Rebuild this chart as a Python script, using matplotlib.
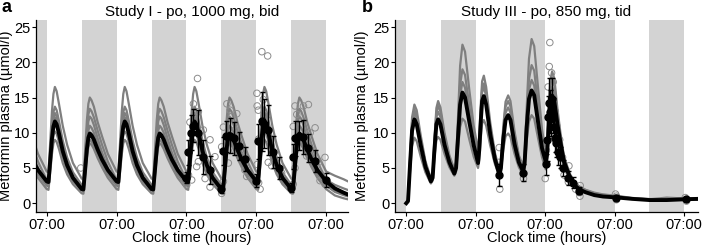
import matplotlib
matplotlib.use('Agg')
import matplotlib.pyplot as plt

plt.rcParams['font.family'] = ['Liberation Sans', 'DejaVu Sans']

# ---------------- Study I : po, 1000 mg, bid ----------------
# one 12 h dosing interval (hours after dose), morning / evening profiles
cyc_t = [0, 0.6, 1.2, 1.8, 2.3, 2.8, 3.4, 4.2, 5.5, 7, 9, 12]
tail_t = [15, 18, 20]          # after the last (evening) dose
am_doses = [0, 24, 48, 72]
pm_doses = [-12, 12, 36, 60, 84]

mean_am = [3.1, 3.0, 6.1, 9.2, 10.9, 11.6, 11.2, 9.9, 7.4, 5.4, 3.6, 2.0]
mean_pm = [2.0, 1.95, 4.8, 7.7, 9.3, 9.9, 9.65, 9.0, 7.6, 6.2, 4.7, 3.1]
mean_tail = [2.1, 1.5, 1.15]

grey_am = [
    [4.5, 4.4, 8.7, 13.1, 15.5, 16.5, 15.9, 14.1, 11.0, 8.3, 5.7, 3.5],
    [3.3, 3.2, 6.9, 10.8, 12.9, 13.7, 13.2, 11.7, 8.9, 6.5, 4.4, 2.6],
    [2.6, 2.5, 6.2, 9.9, 12.0, 12.8, 12.35, 10.9, 8.1, 5.8, 3.8, 2.1],
    [3.0, 2.9, 6.2, 9.6, 11.5, 12.2, 11.8, 10.4, 7.8, 5.6, 3.7, 2.1],
    [2.5, 2.4, 5.2, 8.0, 9.6, 10.2, 9.85, 8.7, 6.5, 4.7, 3.1, 1.8],
    [2.0, 1.9, 4.45, 7.0, 8.5, 9.0, 8.7, 7.7, 5.7, 4.1, 2.7, 1.4],
]
grey_pm = [
    [3.5, 3.4, 7.5, 11.8, 14.1, 15.0, 14.6, 13.7, 11.5, 9.5, 7.0, 4.5],
    [2.6, 2.5, 6.4, 10.4, 12.6, 13.4, 13.05, 12.2, 10.3, 8.3, 5.9, 3.3],
    [2.1, 2.0, 5.7, 9.4, 11.6, 12.3, 12.0, 11.1, 9.2, 7.2, 5.0, 2.6],
    [2.1, 2.0, 5.2, 8.5, 10.3, 11.0, 10.7, 10.0, 8.4, 6.8, 4.9, 3.0],
    [1.8, 1.75, 4.3, 7.0, 8.5, 9.0, 8.75, 8.2, 6.9, 5.6, 4.1, 2.5],
    [1.4, 1.35, 3.9, 6.5, 8.0, 8.5, 8.3, 7.7, 6.4, 5.1, 3.6, 2.0],
]
grey_tail = [
    [3.9, 3.4, 3.0],
    [2.6, 2.1, 1.8],
    [1.8, 1.3, 1.05],
    [2.0, 1.45, 1.15],
    [1.6, 1.15, 0.9],
    [1.1, 0.7, 0.5],
]

# observed means +/- sd
obs_a_t = [47.8, 48.7, 49.6, 50.4, 51.8, 53.8, 56.1,
           59.8, 60.4, 61.7, 62.8, 64.2, 65.9, 68.2,
           72.0, 72.5, 73.9, 74.5, 75.9, 77.9, 79.9,
           83.8, 84.6, 85.3, 86.5, 88.2, 89.9, 92.0, 95.8]
obs_a_v = [3.6, 7.2, 10.0, 11.0, 10.0, 6.6, 4.7,
           2.0, 7.4, 9.5, 9.6, 9.2, 8.1, 6.3,
           3.2, 8.8, 11.6, 11.3, 10.4, 7.3, 5.0,
           2.2, 6.6, 9.2, 9.6, 9.4, 7.8, 6.0, 3.3]
obs_a_sd = [0.8, 1.8, 2.5, 2.3, 3.2, 2.4, 2.0,
            0.6, 2.0, 2.2, 2.5, 2.3, 2.0, 1.7,
            0.9, 2.5, 4.2, 3.5, 3.6, 2.3, 1.5,
            0.6, 1.8, 2.5, 2.1, 2.4, 2.0, 1.5, 1.0]
# individual observations
ind_a_t = [11.7, 47.2, 48.1, 48.7, 49.2, 49.8, 50.4, 51.5, 51.8, 52.1, 52.1, 53.8, 54.4, 56.1, 56.1, 56.7, 57.8,
           60.1, 60.7, 60.1, 60.7, 61.9, 63.0, 63.6, 65.3, 64.7, 62.4, 64.7, 67.0, 68.1, 68.7,
           72.2, 72.7, 72.3, 72.8, 72.3, 72.8, 73.3, 73.9, 74.4, 75.6, 75.9, 76.1, 76.8, 77.3, 77.9, 79.0, 80.7,
           84.7, 84.7, 85.3, 85.3, 85.9, 87.6, 88.2, 89.3, 89.9, 90.5, 91.6, 92.2, 93.4, 93.9, 95.6, 95.6]
ind_a_v = [5.0, 3.2, 2.6, 4.0, 11.5, 3.3, 14.1, 5.2, 17.7, 13.0, 5.9, 10.4, 3.5, 9.0, 2.3, 3.8, 6.6,
           1.4, 3.1, 8.0, 10.8, 14.1, 13.2, 12.3, 12.7, 10.4, 5.7, 7.5, 6.6, 4.7, 3.8,
           15.6, 13.2, 13.8, 9.1, 5.5, 2.9, 2.0, 21.5, 14.7, 12.4, 20.9, 5.8, 8.1, 5.3, 6.2, 5.5, 4.3,
           10.9, 2.7, 13.8, 5.0, 12.6, 9.1, 13.8, 6.7, 14.0, 10.0, 7.4, 10.7, 5.8, 3.2, 6.5, 2.7]

# ---------------- Study III : po, 850 mg, tid ----------------
tb = [0, 0.6, 1.3, 2.0, 2.8, 3.6, 5.0, 6.6,
      8.5, 9.1, 9.8, 10.4, 11.0, 11.8, 13.2, 14.9,
      16.6, 17.2, 17.9, 18.6, 19.4, 20.3, 21.8, 23.3,
      24.8, 25.2, 25.8, 26.2, 26.8, 27.6, 29.0, 30.6,
      32.2, 32.7, 33.5, 34.3, 35.2, 36.0, 37.4, 38.9,
      40.4, 40.9, 41.6, 42.4, 43.3, 44.2, 45.5, 46.9,
      48.2, 48.6, 49.2, 49.8, 50.4, 51.2, 52.2, 53.2, 54.5, 56.5, 58.3, 60, 62, 65, 68, 72.7, 78, 84, 90, 96.9, 101]
mean_b = [0, 0.3, 5.5, 10.3, 11.9, 11.2, 8.2, 5.2,
          3.1, 3.6, 8.0, 11.2, 11.9, 11.2, 8.3, 5.8,
          4.2, 5.0, 9.5, 14.0, 15.7, 15.0, 11.5, 8.2,
          5.7, 7.5, 12.0, 14.5, 15.2, 14.0, 9.8, 6.3,
          4.0, 5.0, 9.0, 11.8, 12.5, 11.8, 8.4, 5.8,
          4.5, 5.8, 10.8, 14.8, 16.0, 15.3, 11.6, 7.8,
          5.9, 6.8, 10.5, 14.2, 15.3, 14.3, 11.3, 8.8, 5.9, 3.7, 2.5, 1.9, 1.55, 1.15, 0.95, 0.82, 0.62, 0.45, 0.45, 0.57, 0.62]
grey_b = [
    [0, 0.3, 6.5, 12.2, 14.0, 13.2, 9.6, 6.0,
     3.5, 4.0, 9.5, 13.5, 14.5, 13.6, 10.0, 6.8,
     4.8, 5.8, 12.5, 19.5, 22.5, 21.5, 16.0, 11.0,
     7.5, 9.5, 14.5, 17.3, 18.1, 16.5, 11.5, 7.2,
     4.6, 5.8, 10.8, 14.4, 15.3, 14.5, 10.2, 6.8,
     5.2, 6.8, 13.5, 20.5, 23.3, 22.3, 16.5, 10.5,
     7.0, 8.8, 14.0, 17.5, 18.7, 17.6, 13.5, 10.2, 6.6, 4.2, 2.9, 2.3, 1.85, 1.4, 1.2, 1.0, 0.7, 0.55, 0.8, 0.65, 0.6],
    [0, 0.3, 6.1, 11.6, 13.3, 12.5, 9.1, 5.7,
     3.4, 3.9, 9.1, 12.9, 13.8, 13.0, 9.5, 6.5,
     4.6, 5.5, 11.2, 16.8, 19.0, 18.2, 13.8, 9.6,
     6.8, 8.7, 13.5, 16.2, 17.0, 15.6, 10.8, 6.8,
     4.4, 5.5, 10.3, 13.7, 14.5, 13.7, 9.7, 6.5,
     5.0, 6.5, 12.5, 17.6, 19.6, 18.8, 14.0, 9.2,
     6.5, 8.2, 13.3, 16.8, 17.8, 16.7, 12.6, 9.6, 6.2, 4.0, 2.8, 2.3, 1.9, 1.5, 1.25, 1.05, 0.75, 0.6, 0.6, 0.7, 0.65],
    [0, 0.3, 5.9, 11.0, 12.8, 12.1, 8.8, 5.6,
     3.3, 3.8, 8.6, 12.2, 13.0, 12.2, 9.0, 6.2,
     4.5, 5.3, 10.3, 15.3, 17.2, 16.4, 12.5, 8.9,
     6.2, 8.1, 13.0, 15.7, 16.5, 15.2, 10.6, 6.8,
     4.3, 5.4, 9.8, 12.8, 13.6, 12.8, 9.1, 6.3,
     4.9, 6.3, 11.8, 16.1, 17.5, 16.7, 12.6, 8.5,
     6.0, 7.4, 12.0, 15.4, 16.5, 15.5, 12.0, 9.3, 6.1, 3.9, 2.7, 2.1, 1.7, 1.25, 1.0, 0.9, 0.65, 0.5, 0.55, 0.6, 0.6],
    [0, 0.2, 4.5, 8.1, 9.3, 8.8, 6.6, 4.4,
     2.8, 3.2, 6.8, 8.9, 9.4, 9.0, 7.0, 5.1,
     3.9, 4.5, 8.0, 10.8, 12.0, 11.6, 9.0, 6.6,
     5.0, 6.2, 9.5, 11.3, 11.8, 11.0, 8.2, 5.6,
     3.8, 4.6, 7.6, 9.5, 9.9, 9.4, 7.0, 5.1,
     4.0, 5.0, 8.8, 11.6, 12.5, 12.0, 9.3, 6.5,
     4.8, 6.0, 9.8, 12.5, 13.5, 12.8, 10.0, 7.6, 5.0, 3.4, 2.4, 1.9, 1.5, 1.15, 0.95, 0.8, 0.6, 0.5, 0.5, 0.5, 0.5],
]
obs_b_t = [32.2, 40.4, 48.3, 48.7, 49.0, 49.3, 49.6, 50.0, 50.3, 50.7, 51.0, 51.4, 51.8, 52.3, 53.0, 54.3, 55.9, 57.6, 59.8, 72.5, 96.6]
obs_b_v = [4.0, 4.3, 5.5, 9.0, 12.2, 14.2, 13.0, 12.0, 14.8, 12.4, 10.8, 9.2, 8.6, 7.2, 6.5, 5.0, 3.6, 2.9, 1.8, 0.8, 0.55]
obs_b_sd = [1.6, 1.2, 1.5, 3.0, 3.0, 3.5, 3.0, 2.5, 3.0, 2.5, 2.0, 2.0, 2.0, 1.8, 1.5, 1.2, 1.0, 0.8, 0.5, 0.3, 0.3]
ind_b_t = [32.1, 32.3, 32.0, 40.5, 40.3, 48.0, 48.4, 49.0, 49.4, 49.6, 50.2, 50.8, 51.5, 52.0, 53.0, 54.0, 54.5,
           56.0, 56.2, 58.5, 59.8, 60.1, 60.0, 72.3, 72.6, 72.6, 96.4, 96.8, 97.0]
ind_b_v = [7.9, 2.0, 5.8, 3.5, 5.5, 3.5, 7.5, 16.5, 19.4, 22.8, 18.5, 17.2, 13.0, 11.0, 9.0, 6.5, 4.0,
           3.0, 5.3, 2.0, 1.5, 2.5, 1.0, 1.3, 0.5, 1.0, 0.8, 0.3, 0.5]

nights = [-12, 12, 36, 60, 84]
band_col = '#d3d3d3'
grey_col = '#7f7f7f'


def bid_curve(am, pm, tail):
    t, v = [], []
    for d in sorted(am_doses + pm_doses):
        prof = am if d in am_doses else pm
        t += [d + x for x in cyc_t]
        v += prof
    t += [pm_doses[-1] + x for x in tail_t]
    v += tail
    return t, v


def style(ax, xlim, title, letter, ylab_x):
    for n in nights:
        ax.axvspan(n, n + 12, color=band_col, lw=0, zorder=0)
    ax.set_xlim(*xlim)
    ax.set_ylim(-1.2, 26)
    ax.set_xticks([0, 24, 48, 72, 96])
    ax.set_xticklabels(['07:00'] * 5)
    ax.set_yticks([0, 5, 10, 15, 20, 25])
    for s in ['top', 'right']:
        ax.spines[s].set_visible(False)
    for s in ['left', 'bottom']:
        ax.spines[s].set_linewidth(0.9)
    ax.tick_params(direction='out', length=3, width=0.8, labelsize=10.5, pad=1.2, colors='black')
    ax.set_xlabel('Clock time (hours)', fontsize=10.5, va='bottom')
    ax.set_ylabel('Metformin plasma (µmol/l)', fontsize=10.5)
    ax.xaxis.set_label_coords(0.5, -0.172)
    ax.yaxis.set_label_coords(ylab_x, 0.5)
    ax.set_title(title, fontsize=11, pad=3)
    ax.text(-0.11, 1.02, letter, transform=ax.transAxes, fontsize=13, fontweight='bold',
            va='bottom', ha='left')


fig = plt.figure(figsize=(7.08, 2.45), dpi=100)
ax1 = fig.add_axes([0.0508, 0.136, 0.4407, 0.7824])
ax2 = fig.add_axes([0.5579, 0.136, 0.428, 0.7824])

# panel a
for am, pm, tl in zip(grey_am, grey_pm, grey_tail):
    t, v = bid_curve(am, pm, tl)
    ax1.plot(t, v, color=grey_col, lw=1.6, solid_joinstyle='round', zorder=2)
ax1.scatter(ind_a_t, ind_a_v, s=22, facecolors='none', edgecolors='#8c8c8c', linewidths=0.7, zorder=3)
t, v = bid_curve(mean_am, mean_pm, mean_tail)
ax1.plot(t, v, color='black', lw=2.8, solid_joinstyle='round', zorder=4)
ax1.errorbar(obs_a_t, obs_a_v, yerr=obs_a_sd, fmt='o', color='black', ms=5, elinewidth=1,
             capsize=1.8, capthick=1, zorder=5)
style(ax1, (-3.7, 103.5), 'Study I - po, 1000 mg, bid', 'a', -0.075)

# panel b
for g in grey_b:
    ax2.plot(tb, g, color=grey_col, lw=1.6, solid_joinstyle='round', zorder=2)
ax2.scatter(ind_b_t, ind_b_v, s=22, facecolors='none', edgecolors='#8c8c8c', linewidths=0.7, zorder=3)
ax2.plot(tb, mean_b, color='black', lw=2.8, solid_joinstyle='round', zorder=4)
ax2.errorbar(obs_b_t, obs_b_v, yerr=obs_b_sd, fmt='o', color='black', ms=5, elinewidth=1,
             capsize=1.8, capthick=1, zorder=5)
style(ax2, (-3.9, 100.8), 'Study III - po, 850 mg, tid', 'b', -0.085)

fig.savefig('out.png', dpi=100)
